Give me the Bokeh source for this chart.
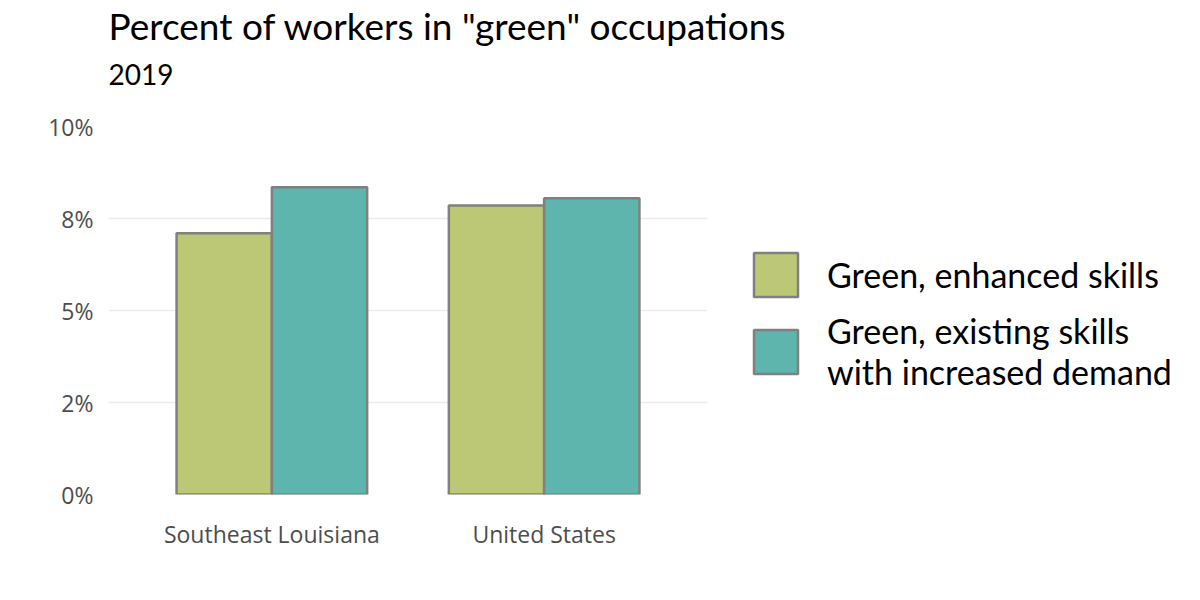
from bokeh.plotting import figure
from bokeh.models import (FactorRange, Range1d, FixedTicker, ColumnDataSource,
                          Legend, LegendItem, Title)
from bokeh.transform import dodge
from bokeh.embed import file_html
from bokeh.resources import INLINE

regions = ["Southeast Louisiana", "United States"]
enhanced = [7.1, 7.85]
existing = [8.35, 8.05]
series_labels = ["Green, enhanced skills", "Green, existing skills\nwith increased demand"]
colors = ["#BCC875", "#5DB5AE"]
y_ticks = [0, 2.5, 5, 7.5, 10]
y_tick_labels = ["0%", "2%", "5%", "8%", "10%"]

src = ColumnDataSource(dict(region=regions, enhanced=enhanced, existing=existing))

p = figure(x_range=FactorRange(factors=regions, range_padding=0.1,
                               range_padding_units="absolute"),
           y_range=Range1d(0, 10),
           width=1192, height=592, output_backend="svg", toolbar_location=None,
           min_border_left=108, min_border_right=485, min_border_top=126,
           min_border_bottom=98, frame_width=599, frame_height=368,
           title=None)
p.outline_line_color = None

r1 = p.vbar(x=dodge("region", -0.175, range=p.x_range), top="enhanced", width=0.35,
            source=src, fill_color=colors[0], line_color="#808080", line_width=2.5)
r2 = p.vbar(x=dodge("region", 0.175, range=p.x_range), top="existing", width=0.35,
            source=src, fill_color=colors[1], line_color="#808080", line_width=2.5)

p.yaxis.ticker = FixedTicker(ticks=y_ticks)
p.yaxis.major_label_overrides = {t: l for t, l in zip(y_ticks, y_tick_labels)}
for ax in (p.xaxis[0], p.yaxis[0]):
    ax.axis_line_color = None
    ax.major_tick_line_color = None
    ax.minor_tick_line_color = None
    ax.major_label_text_font = "Open Sans"
    ax.major_label_text_font_size = "23px"
    ax.major_label_text_color = "#4D4D4D"
p.yaxis.major_label_standoff = 9
p.xaxis.major_label_standoff = 17
p.xgrid.grid_line_color = None
p.ygrid.grid_line_color = "#EBEBEB"
p.ygrid.grid_line_width = 1.5
p.ygrid.ticker = FixedTicker(ticks=y_ticks)

legend = Legend(items=[LegendItem(label=series_labels[0], renderers=[r1]),
                       LegendItem(label=series_labels[1], renderers=[r2])],
                glyph_width=55, glyph_height=55, label_text_font="Lato",
                label_text_font_size="34px", label_text_color="#000000",
                border_line_color=None, background_fill_alpha=0,
                spacing=8, label_standoff=24, padding=0, margin=0,
                location=(41, 102))
p.add_layout(legend, "right")

p.add_layout(Title(text="2019", text_font="Lato", text_font_size="28px",
                   text_font_style="normal", text_color="#000000",
                   offset=0, standoff=83), "above")
p.add_layout(Title(text='Percent of workers in "green" occupations', text_font="Lato",
                   text_font_size="37px", text_font_style="normal", text_color="#000000",
                   offset=0, standoff=-54), "above")

open("out.html", "w").write(file_html(p, INLINE))
